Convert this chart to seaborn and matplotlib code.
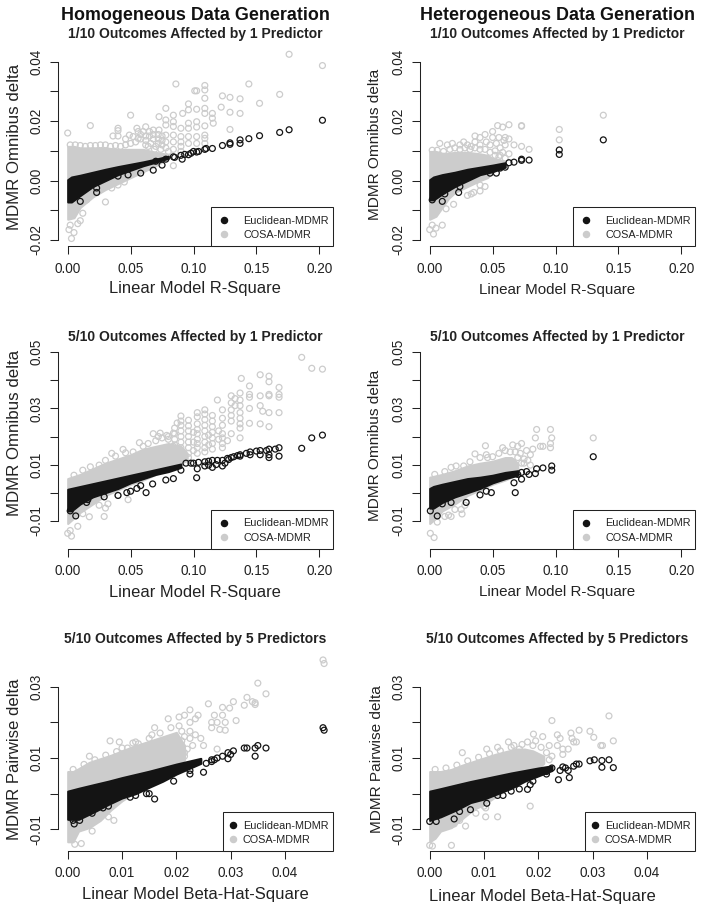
"""
Euclidean vs COSA MDMR deltas against linear model effect size, six panels.
Dense parts of each cloud are kept as envelopes read off the figure (x, hi, lo),
the loose circles as (x, y) points.
"""

import matplotlib
matplotlib.use("Agg")
import matplotlib.pyplot as plt
from matplotlib.lines import Line2D
from matplotlib.patches import Rectangle
import seaborn as sns

GRAY = "#cccccc"
BLACK = "#141414"
INK = "#222222"

# panel 1: homogeneous, 1/10 outcomes, 1 predictor
p1_gray_x = [0, .005, .01, .02, .03, .04, .05, .06, .07, .08]
p1_gray_hi = [.0115, .0115, .011, .011, .011, .0105, .0105, .0105, .0095, .0088]
p1_gray_lo = [-.013, -.0125, -.009, -.0055, -.003, -.001, .001, .003, .005, .0075]
p1_gray_pts = [
    (0, .016), (.018, .0185), (.05, .022), (.086, .0325), (.078, .0243), (.0726, .0215), (.084, .022),
    (.0914, .0226), (.096, .0258), (.096, .0238), (.1025, .024), (.101, .0302), (.1025, .0302), (.109, .032),
    (.109, .0305), (.109, .0277), (.109, .0243), (.109, .0226), (.115, .0226), (.115, .021), (.1157, .0193),
    (.123, .0285), (.129, .028), (.137, .0275), (.144, .0325), (.122, .0247), (.129, .023), (.137, .0226),
    (.1525, .026), (.1685, .029), (.176, .0425), (.2025, .0387), (.129, .0172), (.04, .0176), (.04, .0168),
    (.036, .015), (.04, .015), (.049, .0153), (.055, .0176), (.062, .0181), (.056, .0165), (.068, .017),
    (.0726, .017), (.078, .0187), (.078, .0204), (.084, .0198), (.084, .0182), (.078, .0153), (.084, .0153),
    (.09, .0176), (.096, .0193), (.096, .0176), (.1025, .0198), (.1025, .018), (.109, .0184), (.09, .0148),
    (.096, .0148), (.1025, .0148), (.109, .0153), (.109, .0142), (.09, .013), (.084, .013), (.078, .013),
    (.109, .0125), (.1025, .0125), (.096, .0125), (.09, .0115), (.084, .005), (.058, .0155), (.062, .015),
    (.062, .0135), (.065, .0165), (.065, .015), (.068, .0155), (.068, .014), (.072, .0155), (.072, .014),
    (.075, .015), (.075, .0135), (.075, .012), (.078, .011), (.072, .0125), (.084, .0105), (.09, .0098),
    (.002, -.015), (.001, -.0165), (.005, -.0175), (.003, -.0195), (.008, -.0145), (.01, -.0135),
    (.015, -.0065), (.03, -.0072), (.012, -.011), (.035, -.0025), (.04, -.0015), (.045, -.0005),
    # fringe of the dense block
    (.002, .012), (.006, .012), (.01, .0118), (.014, .0115), (.018, .0118), (.022, .0118), (.026, .012),
    (.03, .012), (.034, .0115), (.038, .0118), (.042, .0115), (.046, .012), (.05, .0125), (.054, .013),
    (.058, .014), (.062, .012), (.066, .0125), (.07, .0115), (.046, .014), (.052, .0148), (.056, .0142),
    (.06, .0165), (.064, .0115), (.069, .0105), (.074, .0105), (.08, .0098),
]
p1_black_x = [0, .003, .01, .02, .03, .04, .05, .06, .07, .08]
p1_black_hi = [.0003, .0012, .0018, .0028, .0038, .0047, .0055, .0063, .0072, .0082]
p1_black_lo = [-.0072, -.0072, -.005, -.002, 0, .002, .0035, .005, .0062, .0075]
p1_black_pts = [
    (.01, -.007), (.023, -.004), (.023, -.0025), (.068, .0035), (.058, .0025), (.048, .0019), (.091, .0072),
    (.1, .0098), (.085, .0078), (.09, .0085), (.096, .0087), (.1025, .0096), (.109, .0105), (.115, .0108),
    (.123, .0118), (.129, .0122), (.129, .0127), (.137, .0125), (.137, .0137), (.144, .0141), (.1525, .0151),
    (.1685, .0162), (.176, .0171), (.2025, .0203), (.075, .0052), (.078, .0072), (.07, .0065), (.04, .0015),
    (.03, .001), (.035, .002), (.084, .008), (.093, .0088), (.098, .0092), (.104, .0098), (.11, .0108),
]

# panel 2: heterogeneous, 1/10 outcomes, 1 predictor
p2_gray_x = [0, .005, .01, .015, .02, .03, .04, .046, .05, .06]
p2_gray_hi = [.0098, .0098, .0092, .0092, .0095, .0095, .009, .0085, .0075, .0065]
p2_gray_lo = [-.013, -.012, -.009, -.006, -.004, -.002, 0, .001, .003, .0055]
p2_gray_pts = [
    (.008, .0125), (.014, .012), (.018, .0125), (.024, .012), (.027, .013), (.03, .012), (.036, .015),
    (.036, .013), (.04, .0145), (.04, .012), (.044, .0155), (.045, .013), (.05, .0165), (.054, .0185),
    (.058, .018), (.06, .0145), (.05, .0145), (.055, .0145), (.059, .0135), (.063, .014), (.063, .0188),
    (.073, .0183), (.073, .0185), (.067, .012), (.073, .0115), (.079, .0105), (.06, .012), (.063, .009),
    (.06, .0075), (.103, .0172), (.103, .0137), (.138, .022), (0, -.0165), (.003, -.018), (.005, -.016),
    (.01, -.015), (.002, -.015), (.013, -.0095), (.019, -.008), (.03, -.005), (.033, -.0045), (.035, -.004),
    (.04, -.0035), (.044, -.002), (.04, -.0015), (.052, .01), (.056, .011), (.055, .008),
    # fringe of the dense block
    (.002, .0102), (.006, .0102), (.011, .0098), (.016, .0105), (.02, .011), (.024, .0105), (.028, .011),
    (.032, .0105), (.036, .011), (.04, .0105), (.044, .0105), (.048, .0095), (.052, .0085), (.056, .0085),
    (.048, .012), (.053, .0125), (.058, .0095), (.033, .0115),
]
p2_black_x = [0, .003, .01, .02, .03, .04, .05, .06]
p2_black_hi = [.0003, .0012, .002, .0028, .0038, .0045, .0052, .006]
p2_black_lo = [-.0065, -.0065, -.0045, -.002, 0, .002, .003, .0045]
p2_black_pts = [
    (.002, -.0065), (.01, -.007), (.023, -.004), (.024, -.002), (.012, -.0045), (.048, .0025), (.053, .0025),
    (.063, .006), (.067, .0062), (.073, .0072), (.073, .0068), (.079, .0069), (.103, .0103), (.103, .0088),
    (.138, .0137), (.06, .0045), (.056, .0042),
]

# panel 3: homogeneous, 5/10 outcomes, 1 predictor
p3_gray_x = [0, .01, .02, .03, .04, .05, .06, .07, .08, .09, .095]
p3_gray_hi = [.005, .0065, .0085, .0105, .012, .0135, .0155, .0165, .0175, .0165, .014]
p3_gray_lo = [-.011, -.007, -.004, -.001, .001, .003, .0045, .0065, .0085, .0105, .0115]
p3_gray_pts = [
    (.09, .0273), (.09, .024), (.09, .022), (.09, .02), (.09, .018), (.09, .016), (.09, .014),
    (.096, .0238), (.096, .022), (.096, .02), (.096, .018), (.096, .016), (.096, .014), (.096, .0125),
    (.103, .0285), (.103, .027), (.103, .0245), (.103, .0225), (.103, .021), (.103, .019), (.103, .0175),
    (.103, .016), (.103, .014), (.109, .0295), (.109, .028), (.109, .026), (.109, .024), (.109, .022),
    (.109, .02), (.109, .018), (.109, .016), (.109, .0145), (.115, .0275), (.115, .0255), (.115, .0235),
    (.115, .0215), (.115, .0195), (.115, .0175), (.115, .0155), (.119, .033), (.123, .0295), (.123, .0265),
    (.123, .024), (.123, .021), (.123, .0195), (.123, .0175), (.123, .016), (.13, .0345), (.13, .032),
    (.13, .0295), (.13, .0275), (.13, .0255), (.13, .021), (.133, .0335), (.133, .031), (.137, .0355),
    (.137, .033), (.137, .031), (.137, .0285), (.137, .0265), (.137, .0245), (.137, .023), (.137, .0195),
    (.138, .0407), (.1445, .038), (.1445, .035), (.1445, .034), (.1445, .03), (.1445, .0247), (.153, .042),
    (.153, .0345), (.153, .031), (.153, .0245), (.155, .029), (.16, .0415), (.16, .0395), (.16, .035),
    (.16, .0345), (.16, .0285), (.16, .0235), (.168, .0375), (.168, .035), (.168, .034), (.168, .0285),
    (.186, .0482), (.194, .0443), (.2025, .044), (.035, .014), (.044, .0154), (.057, .0178), (.068, .021),
    (.0735, .0212), (.0787, .0204), (.084, .0212), (0, -.0145), (.003, -.0155), (.002, -.0135), (.008, -.012),
    (.0172, -.0086), (.029, -.0085), (.025, -.0045), (.03, -.0055), (.032, -.004), (.048, -.0025), (.04, -.001),
    (.012, -.0075), (.085, .017), (.08, .02), (.084, .0165), (.078, .0145),
    # fringe of the dense block
    (.005, .0062), (.012, .008), (.018, .0092), (.025, .0098), (.03, .0115), (.038, .013), (.046, .0142),
    (.052, .0145), (.06, .0165), (.064, .0175), (.07, .0185), (.075, .0195), (.08, .019), (.085, .019),
    (.085, .021), (.085, .023), (.09, .0255), (.072, .02), (.096, .0258), (.087, .0248), (.1, .0215),
    (.1, .018), (.1, .015), (.112, .0205), (.112, .017), (.12, .019), (.12, .022), (.127, .0185),
]
p3_black_x = [0, .003, .01, .02, .03, .04, .05, .06, .07, .08, .09]
p3_black_hi = [.0012, .0015, .0022, .0032, .0042, .0052, .0062, .0072, .0082, .0092, .0102]
p3_black_lo = [-.0065, -.0065, -.004, -.0015, 0, .0015, .0035, .005, .0065, .0075, .009]
p3_black_pts = [
    (.002, -.0065), (.0064, -.0083), (.015, -.0035), (.016, -.0025), (.029, -.0015), (.04, -.001), (.047, 0),
    (.05, .0005), (.058, .0025), (.0623, 0), (.055, .0015), (.0675, .0031), (.078, .0045), (.084, .005),
    (.1025, .0053), (.1, .0105), (.109, .011), (.115, .0115), (.123, .0115), (.123, .0095), (.115, .009),
    (.13, .0125), (.137, .0135), (.137, .013), (.145, .0145), (.153, .015), (.16, .0155), (.168, .016),
    (.145, .0135), (.153, .0135), (.16, .0125), (.168, .013), (.16, .0135), (.186, .0158), (.194, .0195),
    (.2025, .0205), (.109, .0095), (.103, .0085), (.09, .008), (.094, .0105), (.098, .0105), (.104, .0108),
    (.112, .0112), (.119, .0115), (.127, .0122), (.132, .0128), (.135, .0132), (.128, .0118), (.142, .014),
    (.15, .0148), (.158, .015), (.165, .0155), (.112, .0098), (.118, .01), (.125, .0105),
]

# panel 4: heterogeneous, 5/10 outcomes, 1 predictor
p4_gray_x = [0, .005, .01, .02, .03, .04, .05, .06, .065, .07]
p4_gray_hi = [.0055, .006, .0065, .0078, .0095, .0105, .0112, .0125, .0125, .0105]
p4_gray_lo = [-.011, -.009, -.0065, -.004, -.001, .001, .003, .0045, .0055, .0065]
p4_gray_pts = [
    (.0005, -.0145), (.0035, -.016), (.006, -.0105), (.017, -.0085), (.025, -.006), (.028, -.0045),
    (.0257, -.0076), (.0443, .0167), (.036, .0138), (.046, .0125), (.058, .016), (.066, .017), (.07, .0165),
    (.073, .0175), (.077, .015), (.08, .0135), (.082, .0155), (.085, .0225), (.084, .0195), (.088, .0165),
    (.09, .0165), (.096, .0225), (.097, .0195), (.096, .0175), (.096, .016), (.075, .012), (.13, .0195),
    (.07, .0125), (.075, .0105), (.058, .0105), (.012, -.0085), (.015, -.008), (.02, -.006),
    # fringe of the dense block
    (.004, .0065), (.012, .0075), (.017, .009), (.021, .0095), (.027, .0095), (.032, .011), (.04, .0125),
    (.045, .0135), (.05, .0128), (.055, .014), (.06, .015), (.064, .0145), (.068, .0145), (.072, .014),
    (.073, .0105), (.078, .0115), (.08, .0098), (.066, .011),
]
p4_black_x = [0, .003, .01, .02, .03, .04, .05, .06, .07]
p4_black_hi = [.0015, .0022, .003, .004, .005, .0055, .0062, .0072, .0078]
p4_black_lo = [-.0055, -.0055, -.0035, -.0015, 0, .0015, .0035, .005, .0062]
p4_black_pts = [
    (.0005, -.0065), (.006, -.0083), (.01, -.004), (.017, -.0035), (.029, -.0035), (.04, -.0008), (.049, 0),
    (.045, .0005), (.068, 0), (.067, .0035), (.073, .0048), (.073, .0072), (.079, .0065), (.084, .0068),
    (.085, .0085), (.09, .0088), (.097, .0095), (.097, .008), (.13, .0128), (.07, .0065), (.077, .0075),
]

# panel 5: homogeneous, 5/10 outcomes, 5 predictors
p5_gray_x = [0, .001, .002, .004, .006, .008, .01, .012, .014, .016, .018, .02, .0215]
p5_gray_hi = [.0062, .0062, .007, .0088, .0098, .0108, .012, .0132, .0142, .0152, .0162, .0172, .0135]
p5_gray_lo = [-.0135, -.0135, -.0105, -.0095, -.0075, -.0045, -.002, 0, .002, .004, .006, .0078, .0095]
p5_gray_pts = [
    (.047, .0375), (.0472, .0365), (.035, .031), (.0365, .028), (.034, .0258), (.0345, .0255), (.033, .027),
    (.0259, .0252), (.0305, .0258), (.0285, .0242), (.0298, .024), (.0325, .0248), (.0345, .025), (.0185, .021),
    (.0225, .0235), (.0215, .022), (.0205, .0215), (.0235, .021), (.024, .022), (.0265, .02), (.0275, .02),
    (.027, .022), (.0285, .022), (.029, .02), (.031, .0205), (.0265, .0185), (.028, .018), (.029, .0178),
    (.0225, .0175), (.0235, .0165), (.0245, .0155), (.0215, .016), (.0225, .02), (.0275, .0125), (.025, .0135),
    (.021, .0135), (.0215, .0115), (.0205, .01), (.0045, -.0105), (.0025, -.014), (.0013, -.0142),
    (.0085, -.0075), (.0075, -.0065), (.0055, -.0065), (.006, -.0055), (.004, .0105), (.0078, .0148),
    (.0095, .0145), (.0125, .0145), (.0155, .0165), (.016, .0185),
    # fringe of the dense block
    (.001, .0068), (.003, .0082), (.005, .0095), (.007, .0108), (.009, .0118), (.011, .0128), (.013, .014),
    (.015, .0155), (.017, .017), (.019, .0185), (.0205, .019), (.021, .0175), (.0225, .0155), (.022, .0125),
    (.023, .0135), (.0215, .0105), (.021, .0148), (.012, .0142), (.01, .0128),
]
p5_black_x = [0, .002, .005, .0075, .01, .0125, .015, .0175, .02, .0245]
p5_black_hi = [.0007, .0015, .0026, .0035, .0045, .0054, .0063, .0073, .0083, .0099]
p5_black_lo = [-.0072, -.0072, -.005, -.003, -.0012, 0, .0018, .0035, .0055, .0085]
p5_black_pts = [
    (.001, -.0075), (.0012, -.0085), (.0022, -.0075), (.0045, -.0055), (.0065, -.004), (.0075, -.0035),
    (.009, -.0008), (.0115, -.001), (.0125, -.0005), (.015, 0), (.0145, 0), (.016, -.0015), (.0195, .0035),
    (.0225, .0055), (.025, .006), (.0225, .0065), (.0265, .009), (.027, .0095), (.0275, .01), (.0285, .0105),
    (.03, .011), (.0295, .0115), (.0305, .012), (.033, .0128), (.0325, .0128), (.0345, .0128), (.035, .0135),
    (.0365, .0128), (.0345, .0105), (.0265, .0095), (.0295, .0098), (.047, .0185), (.0472, .0178), (.0255, .0085),
]

# panel 6: heterogeneous, 5/10 outcomes, 5 predictors
p6_gray_x = [0, .001, .002, .004, .006, .008, .01, .012, .014, .016, .0175, .019, .021]
p6_gray_hi = [.0062, .0062, .0062, .0068, .008, .009, .01, .011, .0118, .0125, .0125, .012, .0105]
p6_gray_lo = [-.0135, -.0125, -.0105, -.0095, -.007, -.0045, -.003, -.001, .001, .0035, .005, .006, .0085]
p6_gray_pts = [
    (.0225, .0205), (.033, .0218), (.0191, .0167), (.0208, .016), (.0235, .0165), (.024, .0155), (.026, .017),
    (.0275, .0178), (.0262, .0155), (.0295, .0175), (.0302, .0158), (.0265, .0145), (.027, .0145), (.0315, .0135),
    (.0318, .0135), (.0338, .0148), (.0245, .0125), (.0235, .0135), (.022, .0135), (.0245, .011), (.0255, .0125),
    (.006, .0115), (.0145, .0145), (.0155, .0135), (.0165, .0125), (.0125, .013), (.0105, .0125), (.0185, -.0035),
    (.0103, -.0065), (.0125, -.0065), (.0103, -.004), (0, -.0145), (.0005, -.0147), (.004, -.0145), (.0045, -.0085),
    (.0066, -.0091), (.0055, -.0075), (.0085, -.0055), (.01, -.0035),
    # fringe of the dense block
    (.001, .0068), (.003, .0072), (.005, .008), (.007, .0092), (.009, .0102), (.011, .0112), (.013, .012),
    (.015, .013), (.017, .0138), (.019, .0135), (.0205, .013), (.0215, .0115), (.0225, .0105), (.022, .0095),
    (.018, .0145), (.0195, .0148),
]
p6_black_x = [0, .002, .005, .0075, .01, .0125, .015, .0175, .02, .0225]
p6_black_hi = [.0007, .0014, .0025, .0034, .0042, .005, .0058, .0065, .0072, .0078]
p6_black_lo = [-.0075, -.0065, -.0045, -.0025, -.0015, 0, .0015, .0035, .005, .0065]
p6_black_pts = [
    (0, -.0078), (.0012, -.0078), (.0045, -.0071), (.0105, -.0027), (.0075, -.0045), (.0055, -.005),
    (.0125, -.0005), (.0135, -.0005), (.015, .0007), (.0165, .0013), (.018, .0012), (.0185, .0025), (.019, .0035),
    (.0215, .0055), (.0237, .0039), (.0257, .0045), (.0215, .0062), (.0225, .0072), (.0245, .0075), (.0265, .0077),
    (.027, .0083), (.0275, .0083), (.0295, .0092), (.0303, .0095), (.0317, .0093), (.0317, .0074), (.033, .0095),
    (.0338, .0073), (.0255, .0065), (.024, .0065), (.025, .0072),
]

series_names = ["Euclidean-MDMR", "COSA-MDMR"]
titles_top = ["Homogeneous Data Generation", "Heterogeneous Data Generation"]
xticks_r2 = [0, .05, .10, .15, .20]
xlabels_r2 = ["0.00", "0.05", "0.10", "0.15", "0.20"]
xticks_beta = [0, .01, .02, .03, .04]
xlabels_beta = ["0.00", "0.01", "0.02", "0.03", "0.04"]
yticks_row1 = [-.02, -.01, 0, .01, .02, .03, .04]
ylabels_row1 = ["-0.02", "", "0.00", "", "0.02", "", "0.04"]
yticks_row2 = [-.01, 0, .01, .02, .03, .04, .05]
ylabels_row2 = ["-0.01", "", "0.01", "", "0.03", "", "0.05"]
yticks_row3 = [-.01, 0, .01, .02, .03]
ylabels_row3 = ["-0.01", "", "0.01", "", "0.03"]

W, H = 704, 915
DPI = 100

sns.set_theme(style="white")
plt.rcParams["font.family"] = ["Liberation Sans", "DejaVu Sans"]
plt.rcParams["axes.linewidth"] = 0.75


def fx(px):
    return px / W


def fy(py):
    return 1 - py / H


def draw_cloud(ax, x, hi, lo, pts, color):
    # saturated part as an envelope, the rest as open circles
    ax.fill_between(x, lo, hi, color=color, linewidth=1.5, clip_on=False)
    sns.scatterplot(x=[p[0] for p in pts], y=[p[1] for p in pts], ax=ax, s=18, marker="o",
                    facecolor="none", edgecolor=color, linewidth=0.9, clip_on=False)


def draw_panel(fig, col, row, gray, black, title, xlabel, ylabel, xticks, xlabels, yticks, ylabels, lab):
    left, right = [(58, 332.7), (419.7, 694.7)][col]
    top, bottom = [(52, 246), (342, 548.7), (656.7, 850.7)][row]
    x0_px = [67.7, 429.7][col]
    x_scale = (251.6 if xticks is xticks_r2 else 217.3) / xticks[-1]
    y_lo_px, y_hi_px = [(240, 61.7), (520.7, 352.3), (829.3, 686.7)][row]
    y_scale = (y_lo_px - y_hi_px) / (yticks[-1] - yticks[0])

    ax = fig.add_axes([fx(left), fy(bottom), fx(right - left), (bottom - top) / H])
    ax.set_xlim((left - x0_px) / x_scale, (right - x0_px) / x_scale)
    ax.set_ylim(yticks[0] - (bottom - y_lo_px) / y_scale, yticks[-1] + (y_hi_px - top) / y_scale)
    ax.patch.set_alpha(0)

    draw_cloud(ax, *gray, GRAY)
    draw_cloud(ax, *black, BLACK)

    ax.set_xticks(xticks, xlabels)
    ax.set_yticks(yticks, ylabels)
    ax.tick_params(axis="x", length=5.8, width=0.75, color=INK, pad=5.5, labelsize=9.8, labelcolor=INK, bottom=True)
    ax.tick_params(axis="y", length=5.8, width=0.75, color=INK, pad=4.5, labelsize=9.8, labelcolor=INK, left=True)
    for t in ax.get_yticklabels():
        t.set_rotation(90)
        t.set_va("center")
    sns.despine(ax=ax)
    ax.spines["bottom"].set_bounds(xticks[0], xticks[-1])
    ax.spines["left"].set_bounds(yticks[0], yticks[-1])
    for s in ("bottom", "left"):
        ax.spines[s].set_color(INK)

    ax.set_xlabel(xlabel, fontsize=lab["xsize"], color=INK)
    ax.xaxis.set_label_coords(fx(lab["xpos"][0]), fy(lab["xpos"][1]), transform=fig.transFigure)
    ax.xaxis.label.set_va("center")
    ax.set_ylabel(ylabel, fontsize=lab["ysize"], color=INK)
    ax.yaxis.set_label_coords(fx(lab["ypos"][0]), fy(lab["ypos"][1]), transform=fig.transFigure)
    ax.yaxis.label.set_va("center")

    fig.text(fx((left + right) / 2), fy(lab["title_y"]), title, ha="center", va="center",
             fontsize=10, fontweight="bold", color=INK)

    # legend box sits on the plot's lower right corner, over the points
    box_w, box_h = (109.4, 38.4) if row == 2 else (121.4, 38.7)
    ax.add_patch(Rectangle((fx(right - box_w), fy(bottom)), box_w / W, box_h / H, transform=fig.transFigure,
                           facecolor="white", edgecolor=INK, linewidth=0.75, zorder=5, clip_on=False))
    handles = [Line2D([], [], linestyle="none", marker="o", markersize=4.4, color=c) for c in (BLACK, GRAY)]
    hlen, hpad = (0.98, 0.43) if row == 2 else (1.48, 1.04)
    leg = ax.legend(handles, series_names, frameon=False, fontsize=7.8, labelcolor=INK,
                    loc="upper left", bbox_to_anchor=(fx(right - box_w + 4.4), fy(bottom - box_h + 8.5)),
                    bbox_transform=fig.transFigure, borderpad=0, borderaxespad=0,
                    handlelength=hlen, handletextpad=hpad, labelspacing=0.38)
    leg.set_zorder(6)


def main():
    fig = plt.figure(figsize=(W / DPI, H / DPI), dpi=DPI)

    fig.text(fx(195.7), fy(16), titles_top[0], ha="center", va="center", fontsize=12.9, fontweight="bold", color="#111111")
    fig.text(fx(557), fy(16), titles_top[1], ha="center", va="center", fontsize=12.9, fontweight="bold", color="#111111")

    t_one = "1/10 Outcomes Affected by 1 Predictor"
    t_five = "5/10 Outcomes Affected by 1 Predictor"
    t_pred = "5/10 Outcomes Affected by 5 Predictors"
    x_r2 = "Linear Model R-Square"
    x_beta = "Linear Model Beta-Hat-Square"
    y_omni = "MDMR Omnibus delta"
    y_pair = "MDMR Pairwise delta"

    draw_panel(fig, 0, 0, (p1_gray_x, p1_gray_hi, p1_gray_lo, p1_gray_pts), (p1_black_x, p1_black_hi, p1_black_lo, p1_black_pts),
               t_one, x_r2, y_omni, xticks_r2, xlabels_r2, yticks_row1, ylabels_row1,
               dict(xsize=11.9, xpos=(195, 289), ysize=12.2, ypos=(15, 146.7), title_y=34))
    draw_panel(fig, 1, 0, (p2_gray_x, p2_gray_hi, p2_gray_lo, p2_gray_pts), (p2_black_x, p2_black_hi, p2_black_lo, p2_black_pts),
               t_one, x_r2, y_omni, xticks_r2, xlabels_r2, yticks_row1, ylabels_row1,
               dict(xsize=10.9, xpos=(557, 290), ysize=11.1, ypos=(374.7, 144), title_y=34))
    draw_panel(fig, 0, 1, (p3_gray_x, p3_gray_hi, p3_gray_lo, p3_gray_pts), (p3_black_x, p3_black_hi, p3_black_lo, p3_black_pts),
               t_five, x_r2, y_omni, xticks_r2, xlabels_r2, yticks_row2, ylabels_row2,
               dict(xsize=11.9, xpos=(195, 592), ysize=12.2, ypos=(15, 433.3), title_y=336.7))
    draw_panel(fig, 1, 1, (p4_gray_x, p4_gray_hi, p4_gray_lo, p4_gray_pts), (p4_black_x, p4_black_hi, p4_black_lo, p4_black_pts),
               t_five, x_r2, y_omni, xticks_r2, xlabels_r2, yticks_row2, ylabels_row2,
               dict(xsize=10.9, xpos=(557, 592), ysize=11.1, ypos=(374.7, 445.7), title_y=336.7))
    draw_panel(fig, 0, 2, (p5_gray_x, p5_gray_hi, p5_gray_lo, p5_gray_pts), (p5_black_x, p5_black_hi, p5_black_lo, p5_black_pts),
               t_pred, x_beta, y_pair, xticks_beta, xlabels_beta, yticks_row3, ylabels_row3,
               dict(xsize=12, xpos=(195, 895), ysize=12.1, ypos=(15, 759), title_y=639.3))
    draw_panel(fig, 1, 2, (p6_gray_x, p6_gray_hi, p6_gray_lo, p6_gray_pts), (p6_black_x, p6_black_hi, p6_black_lo, p6_black_pts),
               t_pred, x_beta, y_pair, xticks_beta, xlabels_beta, yticks_row3, ylabels_row3,
               dict(xsize=12, xpos=(542, 897), ysize=11.1, ypos=(377, 759), title_y=639.3))

    fig.savefig("out.png", dpi=DPI)
    plt.close(fig)


main()
